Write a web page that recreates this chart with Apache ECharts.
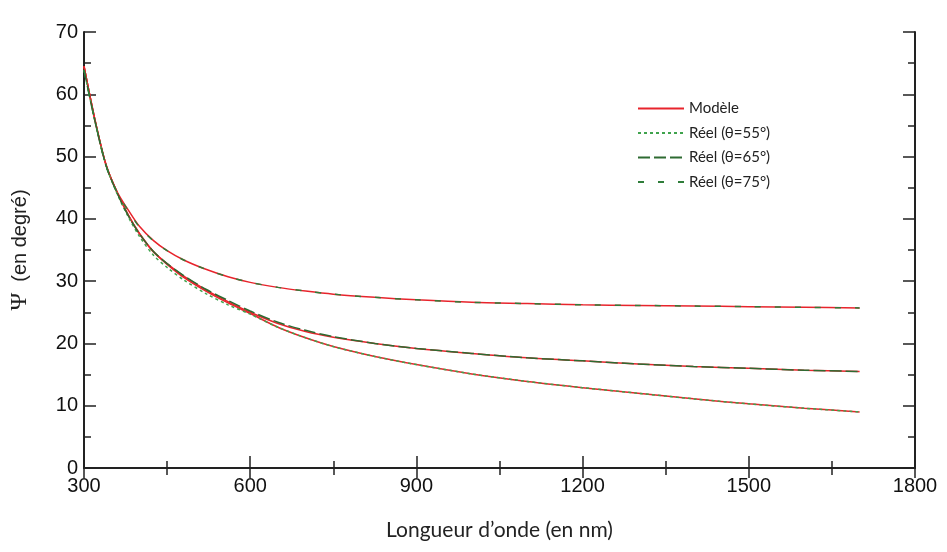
<!DOCTYPE html>
<html>
<head>
<meta charset="utf-8">
<script src="https://cdn.jsdelivr.net/npm/echarts@6/dist/echarts.min.js"></script>
<style>html,body{margin:0;padding:0;background:#fff;}#c{width:947px;height:552px;}</style>
</head>
<body>
<div id="c"></div>
<script>
const wavelengths = [300, 320, 340, 360, 380, 400, 425, 450, 480, 520, 560, 600, 650, 700, 750, 825, 900, 1000, 1100, 1200, 1300, 1400, 1500, 1600, 1700];
// Model curves (red)
const modelA = [64.5, 55.8, 48.6, 44.3, 41.4, 38.8, 36.55, 34.9, 33.4, 31.9, 30.7, 29.8, 29.0, 28.4, 27.9, 27.4, 27.0, 26.6, 26.4, 26.2, 26.1, 26.0, 25.9, 25.8, 25.7];
const modelB = [64.5, 55.8, 48.6, 44.2, 40.6, 37.7, 34.8, 32.8, 30.8, 28.6, 26.7, 25.0, 23.2, 21.9, 21.0, 20.0, 19.2, 18.4, 17.7, 17.2, 16.7, 16.3, 16.0, 15.7, 15.5];
const modelC = [64.5, 55.8, 48.6, 44.2, 40.6, 37.6, 34.7, 32.7, 30.6, 28.4, 26.5, 24.8, 22.6, 20.9, 19.5, 17.9, 16.6, 15.1, 13.9, 12.9, 12.0, 11.1, 10.3, 9.6, 9.0];
// Measured curves (green)
const reel55 = [63.9, 55.6, 48.5, 44.0, 40.3, 37.2, 34.2, 32.2, 30.2, 28.0, 26.2, 24.7, 22.6, 20.9, 19.5, 17.9, 16.6, 15.1, 13.9, 12.9, 12.0, 11.1, 10.3, 9.6, 9.0];
const reel65 = [63.9, 55.6, 48.5, 44.1, 40.5, 37.6, 34.8, 32.8, 30.9, 28.7, 26.9, 25.2, 23.4, 22.1, 21.1, 20.0, 19.2, 18.4, 17.7, 17.2, 16.7, 16.3, 16.0, 15.7, 15.5];
const reel75 = [63.9, 55.6, 48.5, 44.2, 41.3, 38.7, 36.5, 34.9, 33.4, 31.9, 30.7, 29.8, 29.0, 28.4, 27.9, 27.4, 27.0, 26.6, 26.4, 26.2, 26.1, 26.0, 25.9, 25.8, 25.7];
const xTicks = [300, 600, 900, 1200, 1500, 1800];
const yTicks = [0, 10, 20, 30, 40, 50, 60, 70];

const pair = (ys) => wavelengths.map((x, i) => [x, ys[i]]);
const red = '#e8242c';

const chart = echarts.init(document.getElementById('c'), null, {renderer: 'canvas'});
const axisLineStyle = {color: '#222', width: 2};
const tickStyle = {color: '#222', width: 1.5};
const lineSeries = (name, ys, color, type) => ({
  name, type: 'line', data: pair(ys), smooth: 0.3, symbol: 'none',
  lineStyle: {color, width: 1.5, type: type || 'solid'}, itemStyle: {color}
});
const option = {
  backgroundColor: '#fff',
  animation: false,
  grid: {left: 84, right: 32, top: 32, bottom: 84, containLabel: false, outerBoundsMode: 'none'},
  legend: {
    orient: 'vertical', left: 632, top: 96, itemWidth: 46, itemHeight: 14, itemGap: 9.5,
    itemStyle: {opacity: 0},
    textStyle: {fontFamily: 'Lato', fontSize: 15, color: '#222'},
    data: ['Modèle', 'Réel (θ=55°)', 'Réel (θ=65°)', 'Réel (θ=75°)']
  },
  xAxis: [{
    type: 'value', min: xTicks[0], max: xTicks[xTicks.length - 1], interval: 300,
    name: 'Longueur d’onde (en nm)', nameLocation: 'middle', nameGap: 52,
    nameTextStyle: {fontFamily: 'Lato', fontSize: 21, color: '#222'},
    axisLine: {show: true, lineStyle: axisLineStyle},
    axisTick: {show: true, inside: true, length: 12, lineStyle: tickStyle},
    minorTick: {show: true, splitNumber: 2, length: 7, lineStyle: tickStyle},
    axisLabel: {fontFamily: 'Liberation Sans', fontSize: 20, color: '#111', margin: 8, formatter: v => String(v)},
    splitLine: {show: false}
  }, {
    type: 'value', position: 'top', min: 300, max: 1800, interval: 300,
    axisLine: {show: true, lineStyle: axisLineStyle},
    axisTick: {show: true, inside: true, length: 10, lineStyle: tickStyle},
    minorTick: {show: true, splitNumber: 2, length: 7, lineStyle: tickStyle},
    axisLabel: {show: false}, splitLine: {show: false}
  }],
  yAxis: [{
    type: 'value', min: yTicks[0], max: yTicks[yTicks.length - 1], interval: 10,
    name: '{psi|Ψ}  (en degré)', nameLocation: 'middle', nameGap: 52, nameRotate: 90,
    nameTextStyle: {fontFamily: 'Liberation Sans', fontSize: 20, color: '#222',
      rich: {psi: {fontFamily: 'Liberation Serif', fontSize: 24, color: '#222'}}},
    axisLine: {show: true, lineStyle: axisLineStyle},
    axisTick: {show: true, inside: true, length: 12, lineStyle: tickStyle},
    minorTick: {show: true, splitNumber: 2, length: 7, lineStyle: tickStyle},
    axisLabel: {fontFamily: 'Liberation Sans', fontSize: 20, color: '#111', margin: 6},
    splitLine: {show: false}
  }, {
    type: 'value', position: 'right', min: 0, max: 70, interval: 10,
    axisLine: {show: true, lineStyle: axisLineStyle},
    axisTick: {show: true, inside: true, length: 12, lineStyle: tickStyle},
    minorTick: {show: true, splitNumber: 2, length: 7, lineStyle: tickStyle},
    axisLabel: {show: false}, splitLine: {show: false}
  }],
  series: [
    lineSeries('Modèle', modelA, red),
    lineSeries('Modèle', modelB, red),
    lineSeries('Modèle', modelC, red),
    lineSeries('Réel (θ=55°)', reel55, '#3fa34d', [3, 3]),
    lineSeries('Réel (θ=65°)', reel65, '#2e6b32', [12, 4]),
    lineSeries('Réel (θ=75°)', reel75, '#2f7d3a', [6, 14])
  ]
};
chart.setOption(option);
</script>
</body>
</html>
